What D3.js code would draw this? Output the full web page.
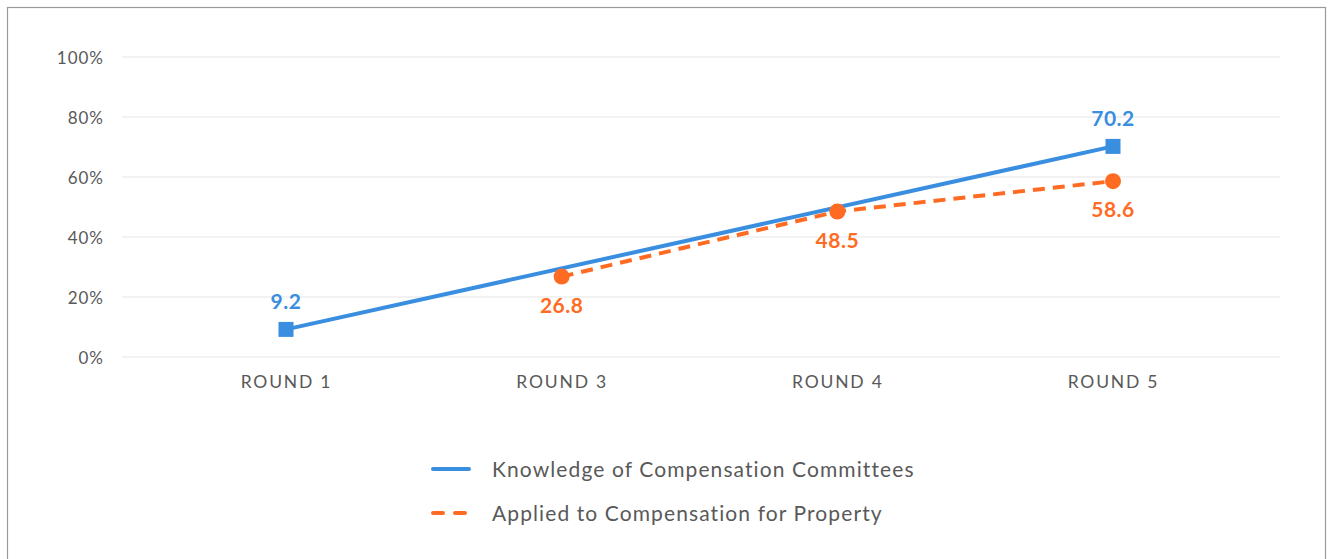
<!DOCTYPE html>
<html>
<head>
<meta charset="utf-8">
<script src="https://cdn.jsdelivr.net/npm/d3@7"></script>
<style>
  body { margin: 0; background: #fff; }
  svg text { font-family: Lato, "Open Sans", sans-serif; }
  .tick text { fill: #595959; }
</style>
</head>
<body>
<div id="chart"></div>
<script>
var rounds = ["ROUND 1", "ROUND 3", "ROUND 4", "ROUND 5"];
var yTicks = [0, 20, 40, 60, 80, 100];
var knowledgeRounds = ["ROUND 1", "ROUND 5"];
var knowledgeValues = [9.2, 70.2];
var appliedRounds = ["ROUND 3", "ROUND 4", "ROUND 5"];
var appliedValues = [26.8, 48.5, 58.6];
var seriesNames = ["Knowledge of Compensation Committees", "Applied to Compensation for Property"];

var width = 1330, height = 559;
var blue = "#3a8ee0", orange = "#ff6b22";

var svg = d3.select("#chart").append("svg")
  .attr("width", width).attr("height", height);

svg.append("rect")
  .attr("x", 7.5).attr("y", 7.5)
  .attr("width", 1318).attr("height", 600)
  .attr("fill", "none").attr("stroke", "#9a9a9a").attr("stroke-width", 1.2);

var x = d3.scalePoint().domain(rounds).range([286, 1113]);
var y = d3.scaleLinear().domain([0, 100]).range([357, 57]);

// gridlines
svg.append("g").selectAll("line").data(yTicks).enter().append("line")
  .attr("x1", 122).attr("x2", 1280)
  .attr("y1", function(d) { return y(d); }).attr("y2", function(d) { return y(d); })
  .attr("stroke", "#e6e6e6").attr("stroke-width", 1.2);

// y axis
var yAxis = svg.append("g").attr("transform", "translate(104,0)")
  .call(d3.axisLeft(y).tickValues(yTicks).tickSize(0).tickPadding(0)
    .tickFormat(function(d) { return d + "%"; }));
yAxis.select(".domain").remove();
yAxis.selectAll("text").style("font-size", "17px").style("letter-spacing", "1px").attr("dy", "0.36em");

// x axis
var xAxis = svg.append("g").attr("transform", "translate(0,357)")
  .call(d3.axisBottom(x).tickSize(0).tickPadding(19));
xAxis.select(".domain").remove();
xAxis.selectAll("text").style("font-size", "17.5px").style("letter-spacing", "1.8px").attr("dy", "0.71em");

var line = d3.line()
  .x(function(d) { return x(d[0]); })
  .y(function(d) { return y(d[1]); });

var kData = d3.zip(knowledgeRounds, knowledgeValues);
var aData = d3.zip(appliedRounds, appliedValues);

svg.append("path").datum(kData)
  .attr("d", line).attr("fill", "none")
  .attr("stroke", blue).attr("stroke-width", 4);

svg.append("path").datum(aData)
  .attr("d", line).attr("fill", "none")
  .attr("stroke", orange).attr("stroke-width", 4)
  .attr("stroke-dasharray", "12,8");

svg.append("g").selectAll("rect").data(kData).enter().append("rect")
  .attr("x", function(d) { return x(d[0]) - 7.5; })
  .attr("y", function(d) { return y(d[1]) - 7.5; })
  .attr("width", 15).attr("height", 15)
  .attr("fill", blue);

svg.append("g").selectAll("circle").data(aData).enter().append("circle")
  .attr("cx", function(d) { return x(d[0]); })
  .attr("cy", function(d) { return y(d[1]); })
  .attr("r", 8).attr("fill", orange);

svg.append("g").selectAll("text").data(kData).enter().append("text")
  .attr("x", function(d) { return x(d[0]); })
  .attr("y", function(d) { return y(d[1]) - 20; })
  .attr("text-anchor", "middle")
  .attr("fill", blue).style("font-size", "21px").style("font-weight", "bold")
  .style("letter-spacing", "0.5px")
  .text(function(d) { return d[1].toFixed(1); });

svg.append("g").selectAll("text").data(aData).enter().append("text")
  .attr("x", function(d) { return x(d[0]); })
  .attr("y", function(d) { return y(d[1]) + 36; })
  .attr("text-anchor", "middle")
  .attr("fill", orange).style("font-size", "21px").style("font-weight", "bold")
  .style("letter-spacing", "0.5px")
  .text(function(d) { return d[1].toFixed(1); });

// legend
var legend = svg.append("g").selectAll("g").data(seriesNames).enter().append("g")
  .attr("transform", function(d, i) { return "translate(433," + (469 + i * 44) + ")"; });

legend.append("line")
  .attr("x1", 0).attr("x2", 36)
  .attr("stroke", function(d, i) { return i === 0 ? blue : orange; })
  .attr("stroke-width", 4)
  .attr("stroke-linecap", "round")
  .attr("stroke-dasharray", function(d, i) { return i === 0 ? null : "10,12"; });

legend.append("text")
  .attr("x", 59).attr("y", 7.5)
  .attr("fill", "#595959").style("font-size", "21px").style("letter-spacing", "1.1px")
  .text(function(d) { return d; });
</script>
</body>
</html>
